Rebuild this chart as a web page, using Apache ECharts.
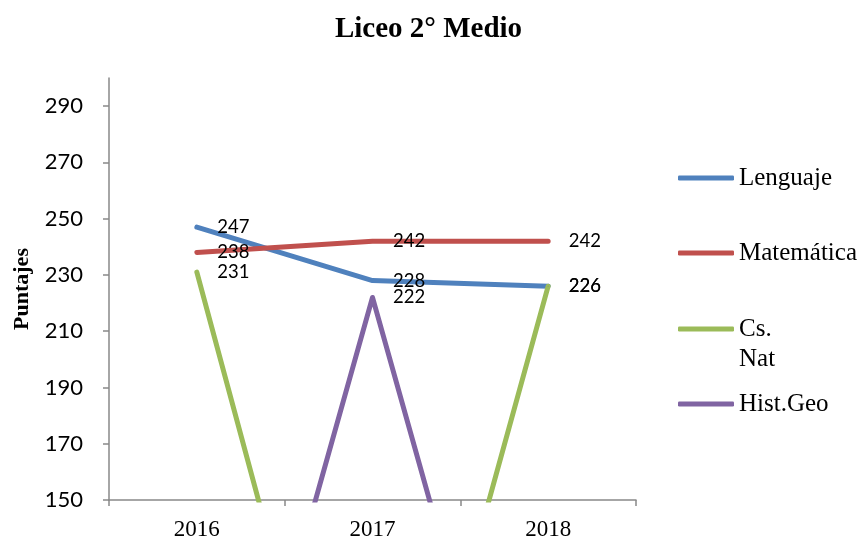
<!DOCTYPE html>
<html>
<head>
<meta charset="utf-8">
<script src="https://cdn.jsdelivr.net/npm/echarts@6/dist/echarts.min.js"></script>
<style>
  html, body { margin: 0; padding: 0; background: #fff; }
  #chart { width: 857px; height: 542px; }
</style>
</head>
<body>
<div id="chart"></div>
<script>
var years = ['2016', '2017', '2018'];
var lenguaje = [247, 228, 226];
var matematica = [238, 242, 242];
var csNat = [231, 0, 226];
var histGeo = [0, 222, 0];
var yTicks = [150, 170, 190, 210, 230, 250, 270, 290];

var seriesNames = ['Lenguaje', 'Matemática', 'Cs. Nat', 'Hist.Geo'];
var seriesData = [lenguaje, matematica, csNat, histGeo];
var colors = ['#4F81BD', '#C0504D', '#9BBB59', '#8064A2'];
var legendTops = [163, 238, 284, 389];

var serif = '"Liberation Serif", "DejaVu Serif", serif';
var sans = 'Lato, "Open Sans", sans-serif';

var chart = echarts.init(document.getElementById('chart'), null, { renderer: 'canvas' });

// one legend per item so the wrapped "Cs. Nat" can sit like the original
var legends = seriesNames.map(function(name, i) {
  return {
    data: [name],
    orient: 'vertical',
    left: 678,
    top: legendTops[i],
    padding: 0,
    icon: 'roundRect',
    itemWidth: 56,
    itemHeight: 5,
    itemGap: 0,
    formatter: function(n) { return n.indexOf(' ') > 0 ? '\n' + n.replace(' ', '\n') : n; },
    textStyle: {
      fontFamily: serif,
      fontSize: 25,
      color: '#000',
      lineHeight: 30
    }
  };
});

var series = seriesNames.map(function(name, i) {
  return {
    name: name,
    type: 'line',
    data: seriesData[i],
    symbol: 'circle',
    symbolSize: 1,
    color: colors[i],
    lineStyle: { width: 5, color: colors[i], cap: 'round', join: 'round' },
    label: {
      show: true,
      position: 'right',
      distance: 20,
      fontFamily: sans,
      fontSize: 18.5,
      color: '#000',
      formatter: function(p) { return p.value < 150 ? '' : p.value; }
    },
    emphasis: { disabled: true }
  };
});

chart.setOption({
  animation: false,
  title: {
    text: 'Liceo 2° Medio',
    left: 'center',
    top: 10,
    textStyle: { fontFamily: serif, fontSize: 29, fontWeight: 'bold', color: '#000' }
  },
  legend: legends,
  grid: { left: 109, right: 221, top: 78, bottom: 42 },
  xAxis: {
    type: 'category',
    data: years,
    boundaryGap: true,
    axisLine: { lineStyle: { color: '#898989', width: 1.5 } },
    axisTick: { show: true, length: 6, lineStyle: { color: '#898989', width: 1.5 } },
    axisLabel: { fontFamily: serif, fontSize: 23, color: '#000', margin: 18 }
  },
  yAxis: {
    type: 'value',
    min: 150,
    max: 300,
    name: 'Puntajes',
    nameLocation: 'middle',
    nameGap: 76,
    nameRotate: 90,
    nameTextStyle: { fontFamily: serif, fontSize: 22, fontWeight: 'bold', color: '#000' },
    axisLine: { show: true, lineStyle: { color: '#898989', width: 1.5 } },
    axisTick: { show: true, length: 6, customValues: yTicks, lineStyle: { color: '#898989', width: 1.5 } },
    axisLabel: { fontFamily: sans, fontSize: 22, color: '#000', margin: 26, customValues: yTicks },
    splitLine: { show: false }
  },
  series: series
});
</script>
</body>
</html>
